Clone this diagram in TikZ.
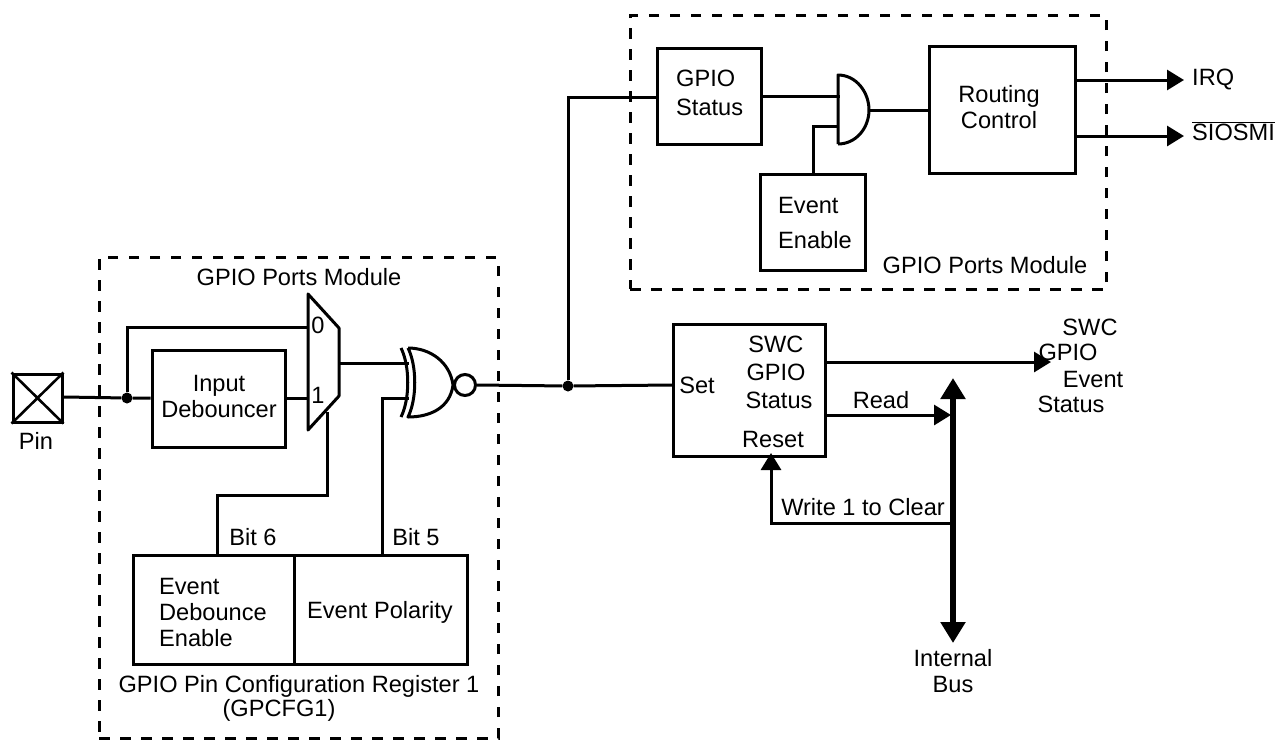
\documentclass[tikz,border=0pt]{standalone}
\usepackage{fontspec}
\setmainfont{Liberation Sans}
\usetikzlibrary{arrows.meta}
\tikzset{
  wire/.style={line width=3pt,line cap=butt},
  arrowwire/.style={wire,-{Triangle[length=17pt,width=20pt]}},
  buswire/.style={line width=6.5pt,{Triangle[length=21pt,width=24pt]}-{Triangle[length=21pt,width=24pt]}},
  modbox/.style={draw,line width=3pt,dash pattern=on 10.5pt off 10.5pt},
  block/.style={draw,line width=3pt,inner sep=0pt,fill=white},
  lbl/.style={inner sep=0pt,font=\fontsize{23.6pt}{26pt}\selectfont},
  lbll/.style={lbl,anchor=west},
  dot/.style={circle,fill=black,inner sep=0pt},
}
\begin{document}
\begin{tikzpicture}[x=1pt,y=-1pt]
\useasboundingbox (0,0) rectangle (1285,740);
% module frames
\node[modbox,minimum width=476pt,minimum height=274pt,inner sep=0pt] (topmod) at (868,152) {};
\node[modbox,minimum width=399pt,minimum height=481pt,inner sep=0pt] (botmod) at (298.5,497.5) {};
% blocks
\node[block,minimum width=104pt,minimum height=96pt] (gs) at (709,96) {};
\node[block,minimum width=146pt,minimum height=127pt] (rc) at (1002,109.5) {};
\node[block,minimum width=105pt,minimum height=96pt] (ee) at (813,222) {};
\node[block,minimum width=152pt,minimum height=132pt] (swc) at (749,390) {};
\node[block,minimum width=133pt,minimum height=97pt] (deb) at (218.5,398.5) {};
\node[block,minimum width=161pt,minimum height=109pt] (edb) at (213.5,609.5) {};
\node[block,minimum width=173pt,minimum height=109pt] (pol) at (380.5,609.5) {};
\node[block,minimum width=49pt,minimum height=48pt] (pin) at (37.5,398) {};
\draw[line width=2.6pt] (pin.north west) -- (pin.south east) (pin.north east) -- (pin.south west);
% mux
\draw[wire,line join=round] (308,294) coordinate (muxtl) -- (339,328) coordinate (muxtr) -- (339,396) coordinate (muxbr) -- (308,430) coordinate (muxbl) -- cycle;
% AND gate
\coordinate (andtop) at (838,75);
\coordinate (andbot) at (838,144);
\coordinate (andout) at (869,110);
\draw[wire,line join=round] (andbot) -- (andtop) .. controls (856,75) and (869,92) .. (andout) .. controls (869,128) and (856,144) .. (andbot);
% XNOR gate
\coordinate (xout) at (453,385);
\draw[wire,line join=round] (408,348) .. controls (417,366) and (417,399) .. (408,417) .. controls (430,417) and (450,408) .. (xout) .. controls (450,362) and (430,348) .. (408,348);
\draw[wire] (401,348) .. controls (410,366) and (410,399) .. (401,417);
\node[draw,circle,line width=3pt,inner sep=0pt,minimum size=21pt] (bub) at (465,385) {};
% junctions
\node[dot,minimum size=11pt] (j1) at (127,398) {};
\node[dot,minimum size=11pt] (j2) at (568,386) {};
% wires
\coordinate (pinout) at (64,397);
\draw[wire] (pinout) -- (j1) -- (deb.west |- j1);
\coordinate (m0) at (308,327);
\coordinate (m1) at (308,398);
\draw[wire] (j1) -- (j1 |- m0) -- (m0);
\draw[wire] (deb.east |- m1) -- (m1);
\coordinate (mo) at (339,363);
\coordinate (xi1) at (409,363);
\draw[wire] (mo) -- (xi1);
\coordinate (xi2) at (409,398);
\coordinate (b5) at (382,555);
\draw[wire] (b5) -- (b5 |- xi2) -- (xi2);
\coordinate (b6) at (217,555);
\coordinate (msel) at (327,412);
\draw[wire] (b6) -- (217,495) -- (327,495) -- (msel);
\coordinate (setin) at (673,385);
\draw[wire] (bub.east) -- (j2) -- (setin);
\coordinate (gsin) at (657,97);
\draw[wire] (j2) -- (j2 |- gsin) -- (gsin);
\coordinate (a1) at (840,96);
\draw[wire] (gs.east |- a1) -- (a1);
\coordinate (a2) at (838,126);
\draw[wire] (ee.north) -- (ee.north |- a2) -- (a2);
\draw[wire] (andout) -- (rc.west |- andout);
% outputs
\coordinate (irq) at (1184,80);
\coordinate (smi) at (1184,136);
\draw[arrowwire] (rc.east |- irq) -- (irq);
\draw[arrowwire] (rc.east |- smi) -- (smi);
\coordinate (evs) at (1051,362);
\draw[arrowwire] (swc.east |- evs) -- (evs);
\coordinate (rd) at (951,415);
\draw[arrowwire] (swc.east |- rd) -- (rd);
% bus
\coordinate (bustop) at (953,378);
\coordinate (busbot) at (953,643);
\draw[buswire] (bustop) -- (busbot);
\coordinate (wr) at (953,523);
\coordinate (rst) at (771,453);
\draw[arrowwire] (wr) -- (rst |- wr) -- (rst);
% labels
\node[lbl] (t1) at (299,277) {GPIO Ports Module};
\node[lbl] (t2) at (985,265) {GPIO Ports Module};
\node[lbll] (t3a) at (676,78) {GPIO};
\node[lbll] (t3b) at (676,107) {Status};
\node[lbl,align=center] (t4) at (999,107) {Routing\\Control};
\node[lbll] (t5) at (778,205) {Event};
\node[lbll] (t6) at (778,240) {Enable};
\node[lbll] (t7) at (1192,79) {IRQ};
\node[lbl,anchor=base west] (t8) at (1192,140) {$\overline{\hbox{SIOSMI}}$};
\node[lbl] (t9) at (776,344) {SWC};
\node[lbl] (t10) at (776,372) {GPIO};
\node[lbl] (t11) at (779,400.5) {Status};
\node[lbl] (t12) at (697,385) {Set};
\node[lbl] (t13) at (773,439) {Reset};
\node[lbl] (t14) at (881,400) {Read};
\node[lbl] (t15) at (863,507) {Write 1 to Clear};
\node[lbl] (t16) at (1090,327) {SWC};
\node[lbl] (t17) at (1068,352) {GPIO};
\node[lbl] (t18) at (1093,379) {Event};
\node[lbl] (t19) at (1071,404) {Status};
\node[lbl,align=center] (t20) at (953,671) {Internal\\Bus};
\node[lbl] (t21) at (36,441) {Pin};
\node[lbl,align=center] (t22) at (219,396) {Input\\Debouncer};
\node[lbl] (t23) at (318,325) {0};
\node[lbl] (t24) at (318,395) {1};
\node[lbl] (t25) at (253,537) {Bit 6};
\node[lbl] (t26) at (416,537) {Bit 5};
\node[lbll] (t27) at (159,586) {Event};
\node[lbll] (t28) at (159,612) {Debounce};
\node[lbll] (t29) at (159,638) {Enable};
\node[lbl] (t30) at (380,612) {Event Polarity};
\node[lbl] (t31) at (299,686) {GPIO Pin Configuration Register 1};
\node[lbl] (t32) at (279,710) {(GPCFG1)};
\end{tikzpicture}
\end{document}
